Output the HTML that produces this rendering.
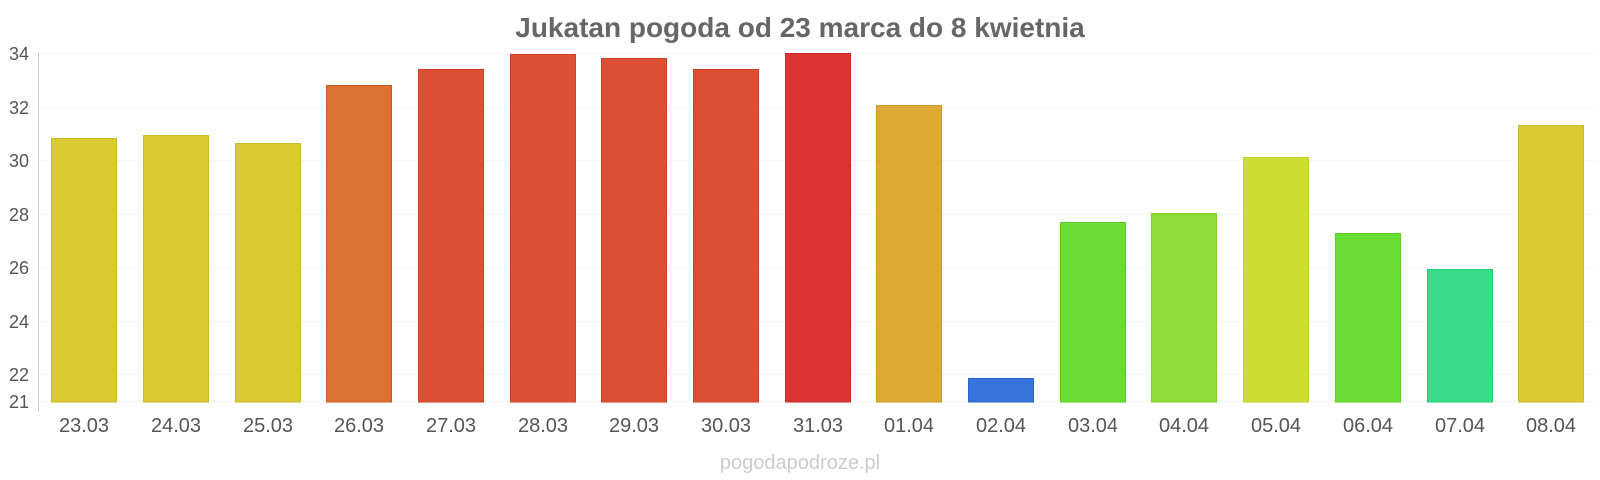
<!DOCTYPE html>
<html><head><meta charset="utf-8"><style>
body{margin:0;background:#fff;}
svg{display:block;font-family:"Liberation Sans",sans-serif;}
</style></head><body>
<svg width="1600" height="480" xmlns="http://www.w3.org/2000/svg">
<text x="800" y="37" text-anchor="middle" font-size="28" font-weight="bold" fill="#666">Jukatan pogoda od 23 marca do 8 kwietnia</text>
<g stroke="#eee" stroke-dasharray="2,2" stroke-width="1">
<line x1="38" x2="1597" y1="53.5" y2="53.5"/>
<line x1="38" x2="1597" y1="107.5" y2="107.5"/>
<line x1="38" x2="1597" y1="160.5" y2="160.5"/>
<line x1="38" x2="1597" y1="214.5" y2="214.5"/>
<line x1="38" x2="1597" y1="267.5" y2="267.5"/>
<line x1="38" x2="1597" y1="321.5" y2="321.5"/>
<line x1="38" x2="1597" y1="374.5" y2="374.5"/>
<line x1="38" x2="1597" y1="401.5" y2="401.5"/>
</g>
<line x1="38.5" x2="38.5" y1="53" y2="412" stroke="#ccc"/>
<g font-size="18" fill="#555" text-anchor="end">
<text x="29" y="60">34</text>
<text x="29" y="114">32</text>
<text x="29" y="167">30</text>
<text x="29" y="221">28</text>
<text x="29" y="274">26</text>
<text x="29" y="328">24</text>
<text x="29" y="381">22</text>
<text x="29" y="408">21</text>
</g>
<g stroke-width="1">
<rect x="51.5" y="138.5" width="65" height="263.5" fill="#dbca32" stroke="#cbba28"/>
<rect x="143.5" y="135.5" width="65" height="266.5" fill="#dbca32" stroke="#cbba28"/>
<rect x="235.5" y="143.5" width="65" height="258.5" fill="#dbca32" stroke="#cbba28"/>
<rect x="326.5" y="85.5" width="65" height="316.5" fill="#dd7033" stroke="#cc5a25"/>
<rect x="418.5" y="69.5" width="65" height="332.5" fill="#dd5033" stroke="#cc4025"/>
<rect x="510.5" y="54.5" width="65" height="347.5" fill="#dd5033" stroke="#cc4025"/>
<rect x="601.5" y="58.5" width="65" height="343.5" fill="#dd5033" stroke="#cc4025"/>
<rect x="693.5" y="69.5" width="65" height="332.5" fill="#dd5033" stroke="#cc4025"/>
<rect x="785.5" y="53.5" width="65" height="348.5" fill="#dc3434" stroke="#cc2828"/>
<rect x="876.5" y="105.5" width="65" height="296.5" fill="#dcaa34" stroke="#cc9a28"/>
<rect x="968.5" y="378.5" width="65" height="23.5" fill="#3575dc" stroke="#2865cc"/>
<rect x="1060.5" y="222.5" width="65" height="179.5" fill="#6adc36" stroke="#5acc28"/>
<rect x="1151.5" y="213.5" width="65" height="188.5" fill="#8edc36" stroke="#7ecc28"/>
<rect x="1243.5" y="157.5" width="65" height="244.5" fill="#cedd33" stroke="#becc28"/>
<rect x="1335.5" y="233.5" width="65" height="168.5" fill="#6adc36" stroke="#5acc28"/>
<rect x="1427.5" y="269.5" width="65" height="132.5" fill="#38dc88" stroke="#28cc78"/>
<rect x="1518.5" y="125.5" width="65" height="276.5" fill="#dbca32" stroke="#cbba28"/>
</g>
<g font-size="20" fill="#555" text-anchor="middle">
<text x="84" y="432">23.03</text>
<text x="176" y="432">24.03</text>
<text x="268" y="432">25.03</text>
<text x="359" y="432">26.03</text>
<text x="451" y="432">27.03</text>
<text x="543" y="432">28.03</text>
<text x="634" y="432">29.03</text>
<text x="726" y="432">30.03</text>
<text x="818" y="432">31.03</text>
<text x="909" y="432">01.04</text>
<text x="1001" y="432">02.04</text>
<text x="1093" y="432">03.04</text>
<text x="1184" y="432">04.04</text>
<text x="1276" y="432">05.04</text>
<text x="1368" y="432">06.04</text>
<text x="1460" y="432">07.04</text>
<text x="1551" y="432">08.04</text>
</g>
<text x="800" y="469" text-anchor="middle" font-size="20" fill="#ccc">pogodapodroze.pl</text>
</svg>
</body></html>
